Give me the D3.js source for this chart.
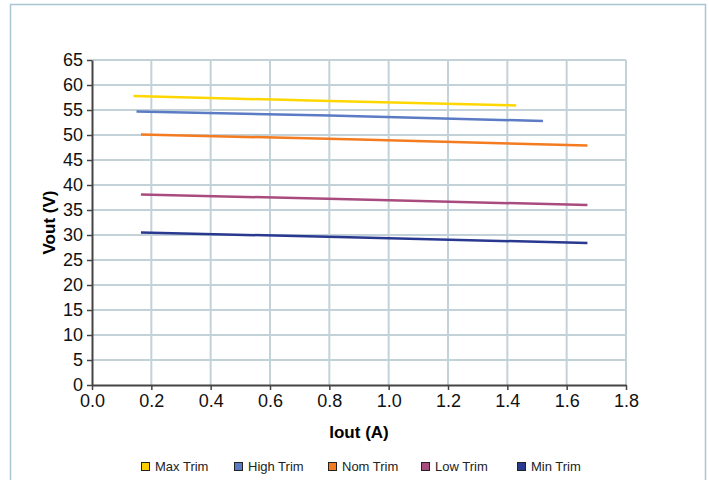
<!DOCTYPE html>
<meta charset="utf-8">
<script src="https://d3js.org/d3.v7.min.js"></script>
<style>
  body { margin: 0; background: #fff; }
  text { font-family: "Liberation Sans", Arial, sans-serif; }
</style>
<div id="chart"></div>
<script>

// data
var seriesNames = ["Max Trim", "High Trim", "Nom Trim", "Low Trim", "Min Trim"];
var seriesColors = ["#FFD700", "#5B7BC4", "#F47B20", "#A84C7F", "#2A3990"];
var legendColors = ["#FFCC00", "#5B7BC4", "#F47B20", "#A84C7F", "#2A3990"];

var maxTrimI = [0.14, 0.80, 1.43];
var maxTrimV = [57.8, 56.8, 55.9];
var highTrimI = [0.15, 0.80, 1.52];
var highTrimV = [54.7, 53.9, 52.8];
var nomTrimI = [0.165, 0.90, 1.67];
var nomTrimV = [50.1, 49.1, 47.9];
var lowTrimI = [0.165, 0.90, 1.67];
var lowTrimV = [38.1, 37.1, 36.0];
var minTrimI = [0.165, 0.90, 1.67];
var minTrimV = [30.5, 29.5, 28.4];

var xTicks = [0, 0.2, 0.4, 0.6, 0.8, 1.0, 1.2, 1.4, 1.6, 1.8];
var yTicks = [0, 5, 10, 15, 20, 25, 30, 35, 40, 45, 50, 55, 60, 65];

var allI = [maxTrimI, highTrimI, nomTrimI, lowTrimI, minTrimI];
var allV = [maxTrimV, highTrimV, nomTrimV, lowTrimV, minTrimV];

var W = 709, H = 480;
var margin = {top: 60, right: 83, bottom: 95, left: 92},
    width = W - margin.left - margin.right,
    height = H - margin.top - margin.bottom;

var svgRoot = d3.select("#chart")
  .append("svg")
    .attr("width", W)
    .attr("height", H);

// outer frame
svgRoot.append("rect")
  .attr("x", 10.5).attr("y", 4.5)
  .attr("width", 695).attr("height", 490)
  .attr("fill", "none")
  .attr("stroke", "#a9c7d2")
  .attr("stroke-width", 1.5);

var svg = svgRoot.append("g")
  .attr("transform", "translate(" + margin.left + "," + margin.top + ")");

var x = d3.scaleLinear().domain([0, 1.8]).range([0, width]);
var y = d3.scaleLinear().domain([0, 65]).range([height, 0]);

// grid
svg.append("g")
  .selectAll("line")
  .data(yTicks.slice(1))
  .enter().append("line")
    .attr("x1", 0).attr("x2", width)
    .attr("y1", function(d) { return y(d); })
    .attr("y2", function(d) { return y(d); })
    .attr("stroke", "#c3d2d9")
    .attr("stroke-width", 2);

svg.append("g")
  .selectAll("line")
  .data(xTicks.slice(1))
  .enter().append("line")
    .attr("y1", 0).attr("y2", height)
    .attr("x1", function(d) { return x(d); })
    .attr("x2", function(d) { return x(d); })
    .attr("stroke", "#c3d2d9")
    .attr("stroke-width", 2);

// series lines
var line = d3.line()
  .x(function(d) { return x(d[0]); })
  .y(function(d) { return y(d[1]); });

seriesNames.forEach(function(name, i) {
  var pts = allI[i].map(function(v, j) { return [v, allV[i][j]]; });
  svg.append("path")
    .datum(pts)
    .attr("fill", "none")
    .attr("stroke", seriesColors[i])
    .attr("stroke-width", 2.5)
    .attr("d", line);
});

// axes
var xAxis = svg.append("g")
  .attr("transform", "translate(0," + height + ")")
  .call(d3.axisBottom(x).tickValues(xTicks).tickFormat(d3.format(".1f")).tickSize(5).tickSizeOuter(0));
var yAxis = svg.append("g")
  .call(d3.axisLeft(y).tickValues(yTicks).tickSize(5).tickSizeOuter(0));

[xAxis, yAxis].forEach(function(a) {
  a.attr("font-size", null).attr("font-family", null);
  a.select(".domain").attr("stroke", "#444").attr("stroke-width", 2);
  a.selectAll(".tick line").attr("stroke", "#444").attr("stroke-width", 1.5);
  a.selectAll("text")
    .style("font-size", "18px")
    .style("fill", "#111");
});
yAxis.selectAll("text").attr("x", -9);
xAxis.selectAll("text").attr("y", 9);

// axis titles
svg.append("text")
  .attr("x", width / 2)
  .attr("y", height + 53)
  .attr("text-anchor", "middle")
  .style("font-size", "17px")
  .style("font-weight", "bold")
  .text("Iout (A)");

svg.append("text")
  .attr("transform", "translate(-37," + (height / 2) + ")rotate(-90)")
  .attr("text-anchor", "middle")
  .style("font-size", "17px")
  .style("font-weight", "bold")
  .text("Vout (V)");

// legend
var legendX = [141, 234, 328, 421, 517];
seriesNames.forEach(function(name, i) {
  svgRoot.append("rect")
    .attr("x", legendX[i] + 0.5).attr("y", 462.5)
    .attr("width", 8).attr("height", 8)
    .attr("fill", legendColors[i])
    .attr("stroke", "#222")
    .attr("stroke-width", 1);
  svgRoot.append("text")
    .attr("x", legendX[i] + 14).attr("y", 471)
    .style("font-size", "13px")
    .style("fill", "#222")
    .text(name);
});

</script>
